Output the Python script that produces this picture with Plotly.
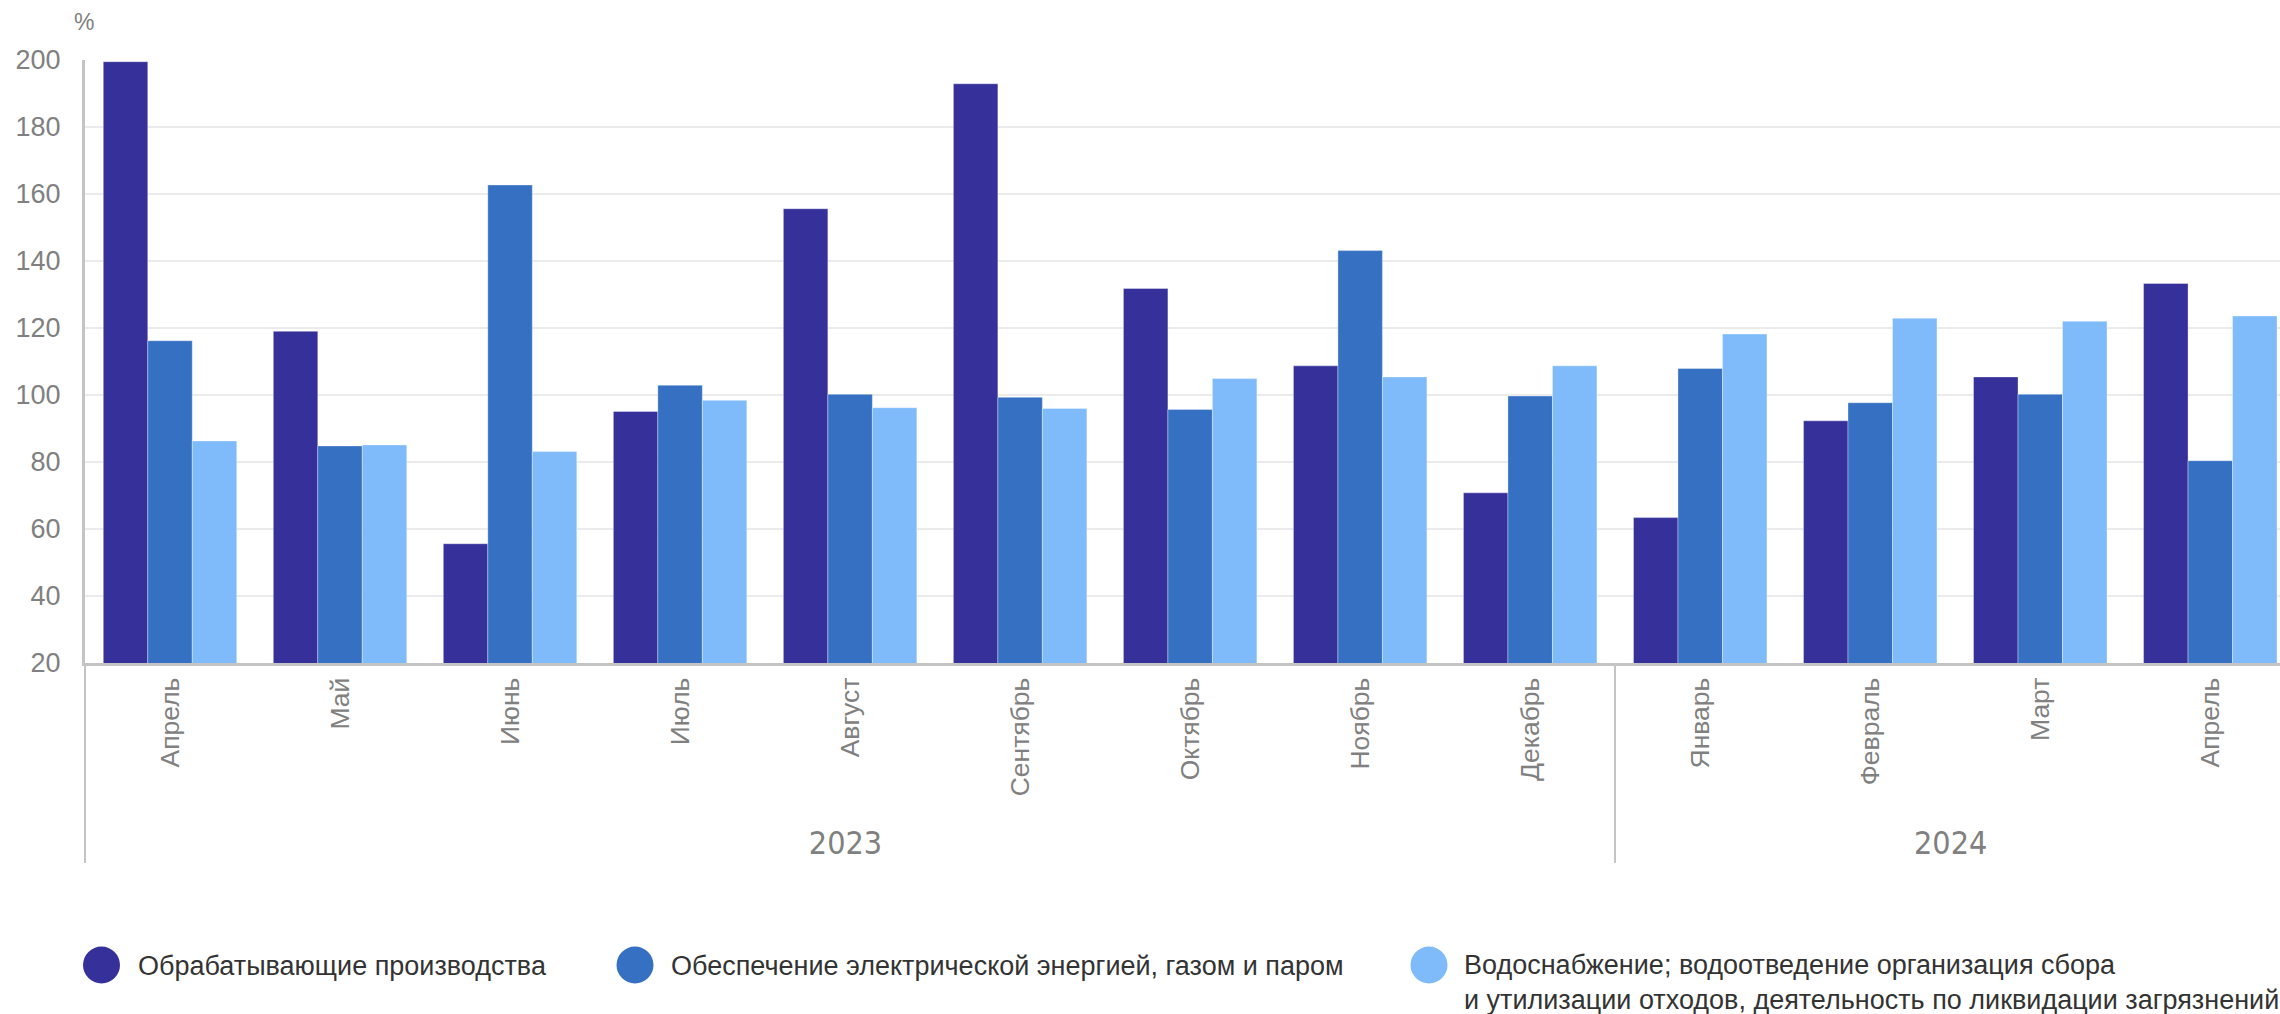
import plotly.graph_objects as go

# ---- data ----
years = ["2023"] * 9 + ["2024"] * 4
months = ["Апрель", "Май", "Июнь", "Июль", "Август", "Сентябрь", "Октябрь",
          "Ноябрь", "Декабрь", "Январь", "Февраль", "Март", "Апрель"]
manufacturing = [199.5, 119.0, 55.6, 95.1, 155.6, 192.9, 131.8, 108.7, 70.8, 63.4, 92.3, 105.4, 133.3]
energy = [116.2, 84.8, 162.7, 102.9, 100.2, 99.3, 95.7, 143.1, 99.7, 107.9, 97.7, 100.2, 80.4]
water = [86.3, 85.1, 83.1, 98.4, 96.2, 96.0, 104.9, 105.4, 108.7, 118.2, 122.9, 122.0, 123.6]

series_names = [
    "Обрабатывающие производства",
    "Обеспечение электрической энергией, газом и паром",
    "Водоснабжение; водоотведение организация сбора<br>и утилизации отходов, деятельность по ликвидации загрязнений",
]
colors = ["#36319a", "#3570c3", "#7fbbfb"]
y_ticks = list(range(20, 201, 20))

# ---- figure ----
W, H = 2280, 1014
ML, MR, MT, MB = 85, 0, 60, 351
PW, PH = W - ML - MR, H - MT - MB

def px(X):
    return (X - ML) / PW

def py(Y):
    return (H - MB - Y) / PH

# keep repeated month names distinct so the axis keeps data order;
# a leading spacer keeps the year row at the reference distance
seen = {}
month_labels = []
for m in months:
    k = seen.get(m, 0)
    month_labels.append("<span style='font-size:16px'>\u00a0\u00a0</span>" + m + "\u200b" * k)
    seen[m] = k + 1

year_labels = ["<span style='font-family:Liberation Sans Narrow, DejaVu Sans Condensed, Liberation Sans, sans-serif;font-size:32px'>%s</span>" % y
               for y in years]
x = [year_labels, month_labels]

fig = go.Figure()
for vals, name, col in zip([manufacturing, energy, water], series_names, colors):
    fig.add_trace(go.Bar(
        x=x, y=vals, name=name,
        marker=dict(color=col, line=dict(color="rgba(255,255,255,0.35)", width=1)),
        showlegend=False,
    ))

legend_ids = ["legend", "legend2", "legend3"]
for name, lid in zip(series_names, legend_ids):
    fig.add_trace(go.Scatter(
        x=[None], y=[None], mode="markers", name=name,
        marker=dict(color="rgba(0,0,0,0)", size=2),
        xaxis="x2", yaxis="y2", legend=lid, showlegend=True,
    ))

leg_font = dict(family="Liberation Sans, Arial, sans-serif", size=27, color="#333333")
circle_x = [101.5, 635, 1429]
text_x = [140, 673, 1466]
CY = 965
leg_y = [CY, CY, CY + 16]
for lid, tx, ly in zip(legend_ids, text_x, leg_y):
    fig.update_layout({lid: dict(
        x=(tx - 42) / W, y=1 - ly / H, xref="container", yref="container",
        xanchor="left", yanchor="middle",
        orientation="v", font=leg_font, bgcolor="rgba(0,0,0,0)", borderwidth=0,
        itemclick=False, itemdoubleclick=False,
    )})

r = 18.5
for cx, col in zip(circle_x, colors):
    fig.add_shape(type="circle", xref="paper", yref="paper",
                  x0=px(cx - r), x1=px(cx + r), y0=py(CY + r), y1=py(CY - r),
                  fillcolor=col, line=dict(width=0))

fig.add_annotation(text="%", xref="paper", yref="paper", x=px(84), y=py(22),
                   xanchor="center", yanchor="middle", showarrow=False,
                   font=dict(family="Liberation Sans, Arial, sans-serif", size=23, color="#808080"))

fig.update_layout(
    width=W, height=H,
    margin=dict(l=ML, r=MR, t=MT, b=MB, pad=0, autoexpand=False),
    paper_bgcolor="white", plot_bgcolor="white",
    barmode="group", bargap=0.215, bargroupgap=0,
    font=dict(family="Liberation Sans, Arial, sans-serif", color="#808080"),
    xaxis=dict(
        type="multicategory", range=[-0.5, 12.41],
        tickangle=-90, tickfont=dict(size=26.5, color="#808080"),
        showline=True, linecolor="#c4c4c4", linewidth=3,
        showgrid=False, ticks="", showdividers=True,
        dividercolor="#c4c4c4", dividerwidth=2, ticklabelstandoff=1,
    ),
    yaxis=dict(
        range=[20, 200], tickvals=y_ticks, tickfont=dict(size=27, color="#808080"),
        showline=True, linecolor="#c4c4c4", linewidth=3,
        showgrid=True, gridcolor="#ebebeb", gridwidth=2,
        zeroline=False, ticks="", ticklabelstandoff=16,
    ),
    xaxis2=dict(visible=False, overlaying="x", range=[0, 1]),
    yaxis2=dict(visible=False, overlaying="y", range=[0, 1]),
)

fig.write_html("out.html", config={"displayModeBar": False},
               post_script="document.body.style.margin='0';document.body.style.overflow='hidden';")
